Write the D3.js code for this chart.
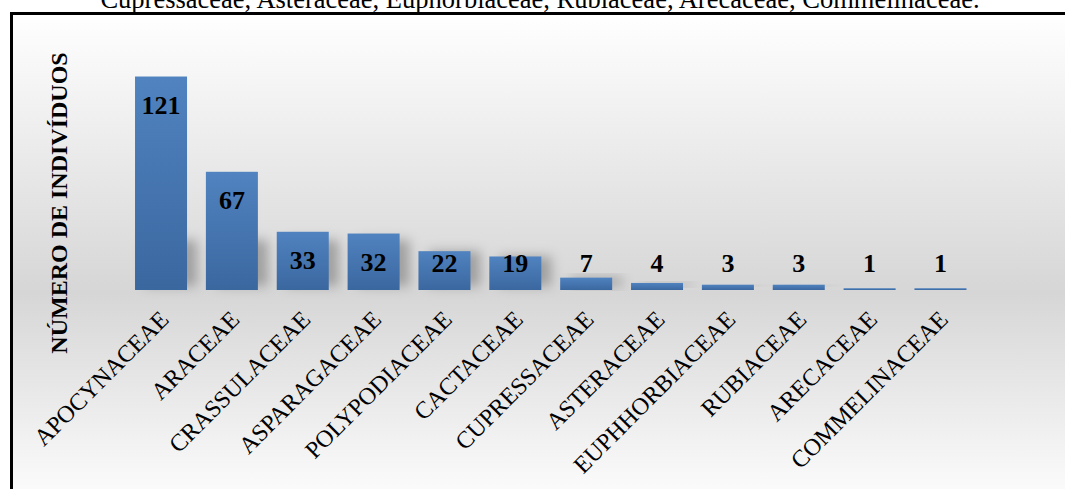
<!DOCTYPE html>
<html>
<head>
<meta charset="utf-8">
<script src="https://cdn.jsdelivr.net/npm/d3@7"></script>
<style>
  body { margin: 0; background: #fff; }
  svg { display: block; font-family: "Liberation Serif", "Times New Roman", serif; }
</style>
</head>
<body>
<script>
// familias botanicas e numero de individuos
var families = ["APOCYNACEAE", "ARACEAE", "CRASSULACEAE", "ASPARAGACEAE", "POLYPODIACEAE",
  "CACTACEAE", "CUPRESSACEAE", "ASTERACEAE", "EUPHHORBIACEAE", "RUBIACEAE", "ARECACEAE", "COMMELINACEAE"];
var counts = [121, 67, 33, 32, 22, 19, 7, 4, 3, 3, 1, 1];
var yTitle = "NÚMERO DE INDIVÍDUOS";
var caption = "Cupressaceae, Asteraceae, Euphorbiaceae, Rubiaceae, Arecaceae, Commelinaceae.";

var data = families.map(function(f, i){ return {name: f, value: counts[i]}; });

var width = 1065, height = 489;

var svg = d3.select("body").append("svg")
  .attr("width", width)
  .attr("height", height);

var defs = svg.append("defs");

var bg = defs.append("linearGradient")
  .attr("id", "bg").attr("x1", 0).attr("y1", 0).attr("x2", 0).attr("y2", 1);
bg.append("stop").attr("offset", "0%").attr("stop-color", "#ffffff");
bg.append("stop").attr("offset", "57%").attr("stop-color", "#d6d6d6");
bg.append("stop").attr("offset", "100%").attr("stop-color", "#fdfdfd");

var barGrad = defs.append("linearGradient")
  .attr("id", "barGrad").attr("x1", 0).attr("y1", 0).attr("x2", 0).attr("y2", 1);
barGrad.append("stop").attr("offset", "0%").attr("stop-color", "#5083c0");
barGrad.append("stop").attr("offset", "100%").attr("stop-color", "#3b679f");

defs.append("filter").attr("id", "blur")
  .attr("x", "-50%").attr("y", "-50%").attr("width", "200%").attr("height", "200%")
  .append("feGaussianBlur").attr("stdDeviation", 6);

// caption line cut at the top of the picture (as in the source)
svg.append("text")
  .attr("x", 540)
  .attr("y", 7.5)
  .attr("text-anchor", "middle")
  .style("font-size", "26.5px")
  .text(caption);

// chart frame
svg.append("rect")
  .attr("x", 11.5)
  .attr("y", 13.5)
  .attr("width", width)
  .attr("height", height)
  .attr("fill", "url(#bg)")
  .attr("stroke", "#000")
  .attr("stroke-width", 3);

var x = d3.scaleBand()
  .domain(families)
  .range([125.6, 975.9])
  .paddingInner(0.266)
  .paddingOuter(0.133);

var y = d3.scaleLinear()
  .domain([0, 140])
  .range([290, 43]);

// shadows
svg.append("g").selectAll("rect")
  .data(data)
  .enter().append("rect")
  .attr("x", function(d){ return x(d.name) + 10; })
  .attr("y", function(d){ return Math.max(y(d.value), y(0) - 50); })
  .attr("width", x.bandwidth())
  .attr("height", function(d){ return y(0) - 4 - Math.max(y(d.value), y(0) - 50); })
  .attr("fill", "#666")
  .attr("opacity", 0.5)
  .attr("filter", "url(#blur)");

svg.append("g").selectAll("rect")
  .data(data)
  .enter().append("rect")
  .attr("x", function(d){ return x(d.name); })
  .attr("y", function(d){ return y(d.value); })
  .attr("width", x.bandwidth())
  .attr("height", function(d){ return y(0) - y(d.value); })
  .attr("fill", "url(#barGrad)");

// value labels
svg.append("g").selectAll("text")
  .data(data)
  .enter().append("text")
  .attr("x", function(d){ return x(d.name) + x.bandwidth() / 2; })
  .attr("y", function(d){ return Math.min(y(d.value) + 37, 272); })
  .attr("text-anchor", "middle")
  .style("font-size", "26px")
  .style("font-weight", "bold")
  .text(function(d){ return d.value; });

// category axis (no line, no ticks)
var xAxis = svg.append("g")
  .attr("transform", "translate(0," + y(0) + ")")
  .call(d3.axisBottom(x).tickSize(0).tickPadding(0));
xAxis.select(".domain").remove();
xAxis.attr("font-family", null);
xAxis.selectAll("text")
  .attr("x", 0).attr("y", 0).attr("dy", null)
  .attr("transform", "translate(9,31) rotate(-45)")
  .attr("text-anchor", "end")
  .attr("fill", "#000")
  .style("font-family", "'Liberation Serif', 'Times New Roman', serif")
  .style("font-size", "24px");

svg.append("text")
  .attr("transform", "translate(67,203) rotate(-90)")
  .attr("text-anchor", "middle")
  .style("font-size", "24px")
  .style("font-weight", "bold")
  .text(yTitle);
</script>
</body>
</html>
